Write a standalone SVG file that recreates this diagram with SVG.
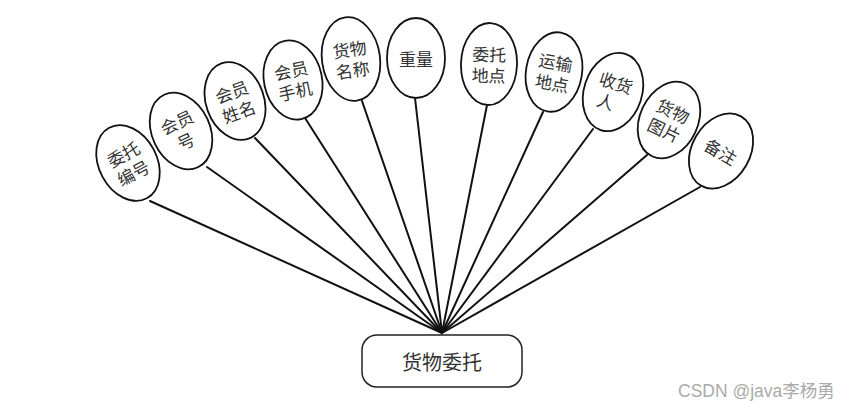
<svg xmlns="http://www.w3.org/2000/svg" width="851" height="409" viewBox="0 0 851 409">
<style>
.bg{fill:#ffffff}
.e{fill:#ffffff;stroke:#111;stroke-width:1.8}
.t{font-family:"Noto Sans CJK SC","Noto Sans",sans-serif;font-size:17px;fill:#333;text-anchor:middle;dominant-baseline:central}
.c line{stroke:#111;stroke-width:2;stroke-linecap:round}
.r{fill:#ffffff;stroke:#222;stroke-width:1.5}
.m{font-family:"Noto Sans CJK SC","Noto Sans",sans-serif;font-size:20px;fill:#333;text-anchor:middle;dominant-baseline:central}
.w{font-family:"Liberation Sans","Noto Sans CJK SC",sans-serif;font-size:17.5px;fill:#aaa}
</style>
<rect class="bg" x="0" y="0" width="851" height="409"/>
<g id="connectors" class="c">
<line x1="150" y1="201" x2="442" y2="333"/>
<line x1="207" y1="167" x2="442" y2="333"/>
<line x1="255" y1="138" x2="442" y2="333"/>
<line x1="305" y1="118" x2="442" y2="333"/>
<line x1="362" y1="101" x2="442" y2="333"/>
<line x1="415" y1="98" x2="442" y2="333"/>
<line x1="487" y1="105" x2="442" y2="333"/>
<line x1="543" y1="112" x2="442" y2="333"/>
<line x1="593" y1="129" x2="442" y2="333"/>
<line x1="647" y1="155" x2="442" y2="333"/>
<line x1="700" y1="187" x2="442" y2="333"/>
</g>
<g id="n1" transform="translate(128,163) rotate(-28)"><ellipse class="e" rx="29" ry="40"/><text class="t" y="-10.5">委托</text><text class="t" y="10.5">编号</text></g>
<g id="n2" transform="translate(181,131) rotate(-25)"><ellipse class="e" rx="29" ry="40"/><text class="t" y="-10.5">会员</text><text class="t" y="10.5">号</text></g>
<g id="n3" transform="translate(235,101) rotate(-20)"><ellipse class="e" rx="29" ry="40"/><text class="t" y="-10.5">会员</text><text class="t" y="10.5">姓名</text></g>
<g id="n4" transform="translate(293,80) rotate(-12)"><ellipse class="e" rx="29" ry="40"/><text class="t" y="-10.5">会员</text><text class="t" y="10.5">手机</text></g>
<g id="n5" transform="translate(351,59) rotate(-8)"><ellipse class="e" rx="29" ry="42"/><text class="t" y="-10.5">货物</text><text class="t" y="10.5">名称</text></g>
<g id="n6" transform="translate(416,58) rotate(0)"><ellipse class="e" rx="29" ry="40"/><text class="t" y="0">重量</text></g>
<g id="n7" transform="translate(489,64) rotate(2)"><ellipse class="e" rx="28" ry="41"/><text class="t" y="-10.5">委托</text><text class="t" y="10.5">地点</text></g>
<g id="n8" transform="translate(554,72) rotate(10)"><ellipse class="e" rx="28" ry="40"/><text class="t" y="-10.5">运输</text><text class="t" y="10.5">地点</text></g>
<g id="n9" transform="translate(613,92) rotate(18)"><ellipse class="e" rx="29" ry="40"/><text class="t" y="-10.5">收货</text><text class="t" x="-4" y="10.5">人</text></g>
<g id="n10" transform="translate(669,120) rotate(25)"><ellipse class="e" rx="29" ry="40"/><text class="t" y="-10.5">货物</text><text class="t" y="10.5">图片</text></g>
<g id="n11" transform="translate(721,151) rotate(30)"><ellipse class="e" rx="29" ry="40"/><text class="t" y="0">备注</text></g>
<g id="main"><rect class="r" x="362" y="335" width="160" height="52" rx="15"/><text class="m" x="442" y="361">货物委托</text></g>
<text class="w" x="678" y="397">CSDN @java李杨勇</text>
</svg>
